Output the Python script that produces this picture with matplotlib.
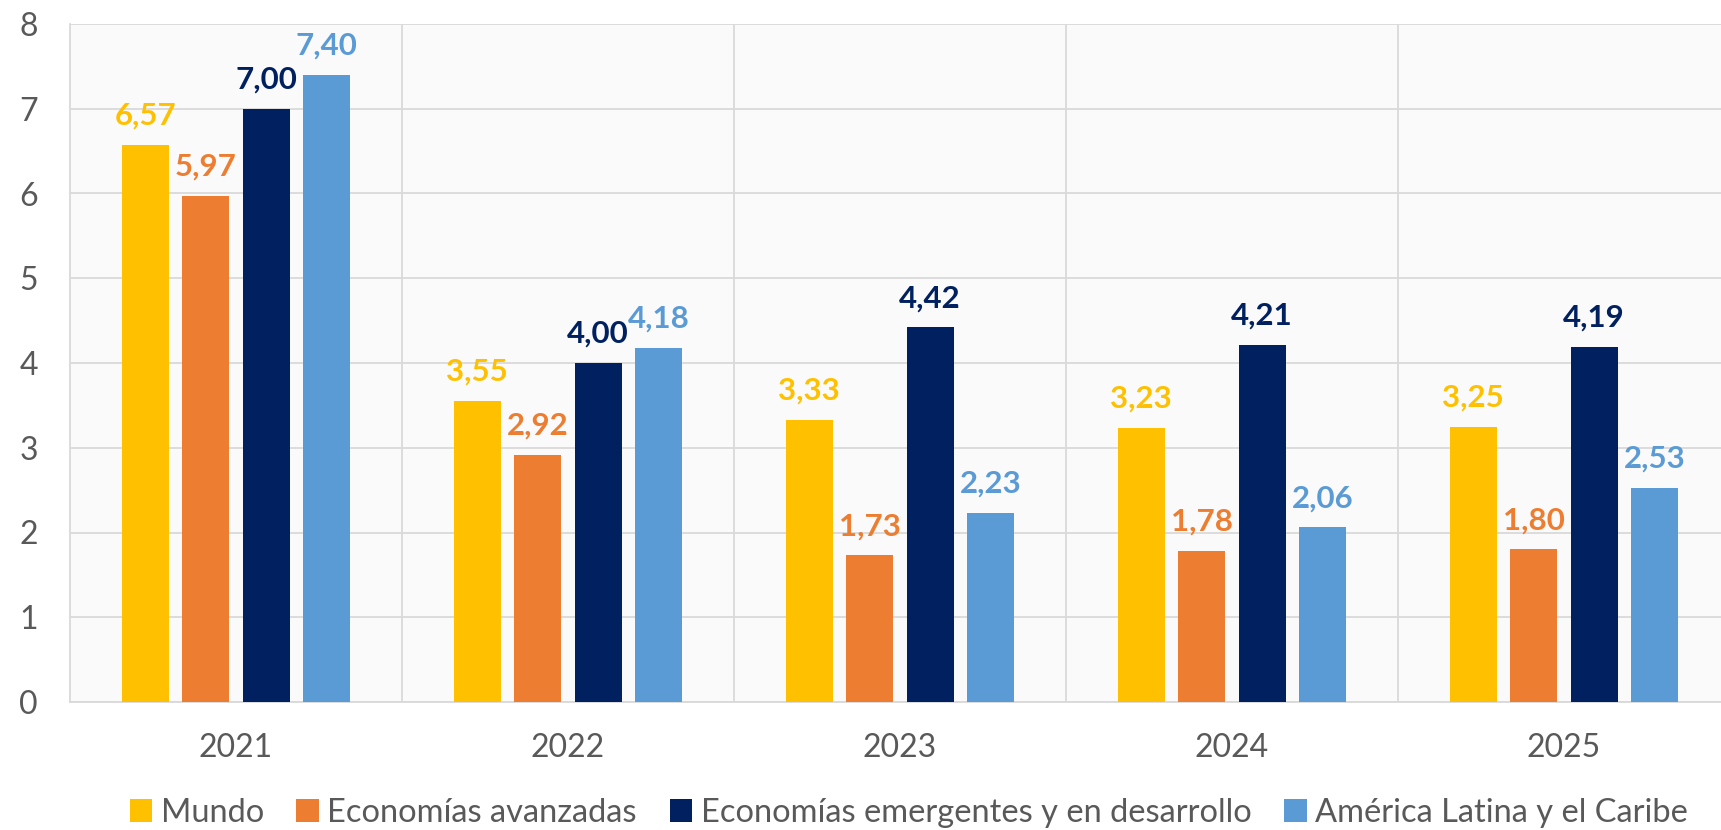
import numpy as np
import matplotlib.pyplot as plt
from matplotlib.patches import Patch

YEARS = ["2021", "2022", "2023", "2024", "2025"]

SERIES = [
    "Mundo",
    "Economías avanzadas",
    "Economías emergentes y en desarrollo",
    "América Latina y el Caribe",
]

MUNDO = [6.57, 3.55, 3.33, 3.23, 3.25]
AVANZADAS = [5.97, 2.92, 1.73, 1.78, 1.80]
EMERGENTES = [7.00, 4.00, 4.42, 4.21, 4.19]
LATAM = [7.40, 4.18, 2.23, 2.06, 2.53]

COLORS = ["#FFC000", "#ED7D31", "#002060", "#5B9BD5"]

W, H = 1721, 830
FONT = "Lato"
TEXT_GRAY = "#595959"
GRID = "#d9d9d9"


def main():
    plt.rcParams["font.family"] = [FONT, "DejaVu Sans"]

    fig = plt.figure(figsize=(W / 100, H / 100), dpi=100)
    ax = fig.add_axes([70 / W, (H - 702) / H, (1730 - 70) / W, (702 - 24) / H])
    ax.set_facecolor("#fafafa")

    x = np.arange(len(YEARS))
    step = 0.182
    width = 0.142
    values = [MUNDO, AVANZADAS, EMERGENTES, LATAM]

    for i, (name, vals, color) in enumerate(zip(SERIES, values, COLORS)):
        pos = x + (i - 1.5) * step
        bars = ax.bar(pos, vals, width=width, color=color, zorder=3, label=name)
        for b, v in zip(bars, vals):
            ax.annotate(
                f"{v:.2f}".replace(".", ","),
                (b.get_x() + b.get_width() / 2, v),
                xytext=(0, 11), textcoords="offset points",
                ha="center", va="bottom", fontsize=22.5, fontweight="bold",
                color=color,
            )

    ax.set_xlim(-0.5, len(YEARS) - 0.5)
    ax.set_ylim(0, 8)
    ax.set_yticks(range(0, 9))
    ax.set_xticks(x)
    ax.set_xticklabels(YEARS)
    ax.set_xticks(x[:-1] + 0.5, minor=True)

    ax.grid(axis="y", which="major", color=GRID, linewidth=1.3, zorder=0)
    ax.grid(axis="x", which="minor", color=GRID, linewidth=1.3, zorder=0)
    ax.grid(axis="x", which="major", visible=False)

    ax.tick_params(axis="both", which="both", length=0, labelsize=23,
                   labelcolor=TEXT_GRAY)
    ax.tick_params(axis="y", pad=23)
    ax.tick_params(axis="x", pad=22)

    for side in ["top", "right"]:
        ax.spines[side].set_visible(False)
    for side in ["left", "bottom"]:
        ax.spines[side].set_color(GRID)
        ax.spines[side].set_linewidth(1.3)

    handles = [Patch(facecolor=c, edgecolor="none") for c in COLORS]
    fig.legend(
        handles, SERIES, loc="center", bbox_to_anchor=(0.528, 17 / H),
        ncol=4, frameon=False, fontsize=23.5, labelcolor=TEXT_GRAY,
        handlelength=0.7, handleheight=0.7, handletextpad=0.25,
        columnspacing=1.0, borderaxespad=0,
    )

    fig.savefig("out.png", dpi=100, facecolor="white")


if __name__ == "__main__":
    main()
